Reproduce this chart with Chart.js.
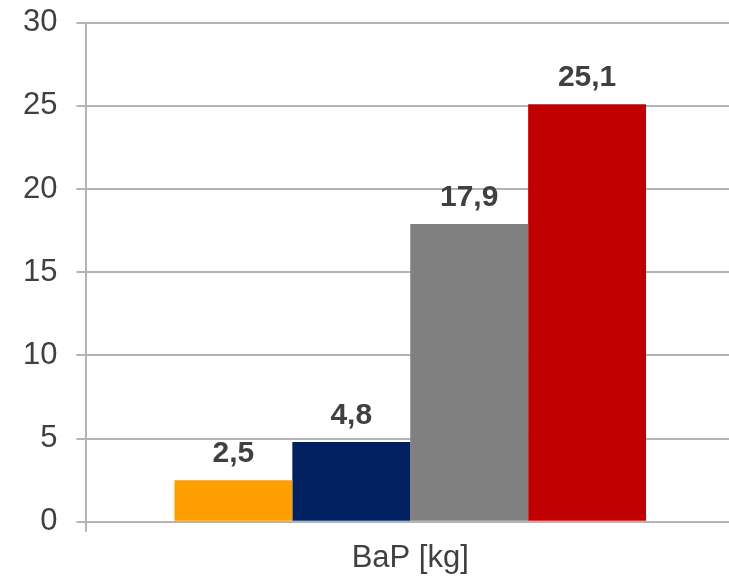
<!DOCTYPE html>
<html>
<head>
<meta charset="utf-8">
<script src="https://cdn.jsdelivr.net/npm/chart.js@4/dist/chart.umd.min.js"></script>
<style>
  html, body { margin: 0; padding: 0; background: #fff; overflow: hidden; }
  #wrap { width: 740px; height: 578px; overflow: hidden; position: relative; }
  #c { position: absolute; left: 0; top: -15px; }
</style>
</head>
<body>
<div id="wrap"><canvas id="c" width="740" height="593"></canvas></div>
<script>
// Categories and series
const categories = ['BaP [kg]'];
const seriesNames = ['Serie 1', 'Serie 2', 'Serie 3', 'Serie 4'];
const seriesValues = [[2.5], [4.8], [17.9], [25.1]];
const seriesColors = ['#FF9E00', '#002060', '#808080', '#C00000'];
const yTicks = [0, 5, 10, 15, 20, 25, 30];

const FONT = '"Liberation Sans", Arial, sans-serif';
const TEXT = '#404040';
const AXIS = '#B4B4B4';

// Value labels above each bar, decimal comma
const valueLabels = {
  id: 'valueLabels',
  afterDatasetsDraw(chart) {
    const ctx = chart.ctx;
    ctx.save();
    ctx.font = 'bold 30px ' + FONT;
    ctx.fillStyle = TEXT;
    ctx.textAlign = 'center';
    ctx.textBaseline = 'alphabetic';
    chart.data.datasets.forEach((ds, i) => {
      const meta = chart.getDatasetMeta(i);
      meta.data.forEach((bar, j) => {
        const v = ds.data[j];
        ctx.fillText(v.toFixed(1).replace('.', ','), bar.x, bar.y - 18);
      });
    });
    ctx.restore();
  }
};

new Chart(document.getElementById('c'), {
  type: 'bar',
  data: {
    labels: categories,
    datasets: seriesNames.map((name, i) => ({
      label: name,
      data: seriesValues[i],
      backgroundColor: seriesColors[i],
      borderWidth: 0,
      categoryPercentage: 0.7284,
      barPercentage: 1.0
    }))
  },
  options: {
    responsive: false,
    animation: false,
    layout: { padding: { top: 0, right: 6, left: 4, bottom: -7 } },
    plugins: { legend: { display: false }, tooltip: { enabled: false } },
    scales: {
      x: {
        offset: true,
        grid: { display: true, drawOnChartArea: false, color: AXIS, lineWidth: 2, tickLength: 10 },
        border: { display: false },
        ticks: { color: TEXT, font: { family: FONT, size: 31 }, padding: 8 }
      },
      y: {
        min: 0,
        max: 30,
        afterBuildTicks: (scale) => { scale.ticks = yTicks.map(v => ({ value: v })); },
        grid: { color: AXIS, lineWidth: 2, tickLength: 10 },
        border: { display: true, color: AXIS, width: 2 },
        ticks: { color: TEXT, font: { family: FONT, size: 31 }, padding: 19 }
      }
    }
  },
  plugins: [valueLabels]
});
</script>
</body>
</html>
